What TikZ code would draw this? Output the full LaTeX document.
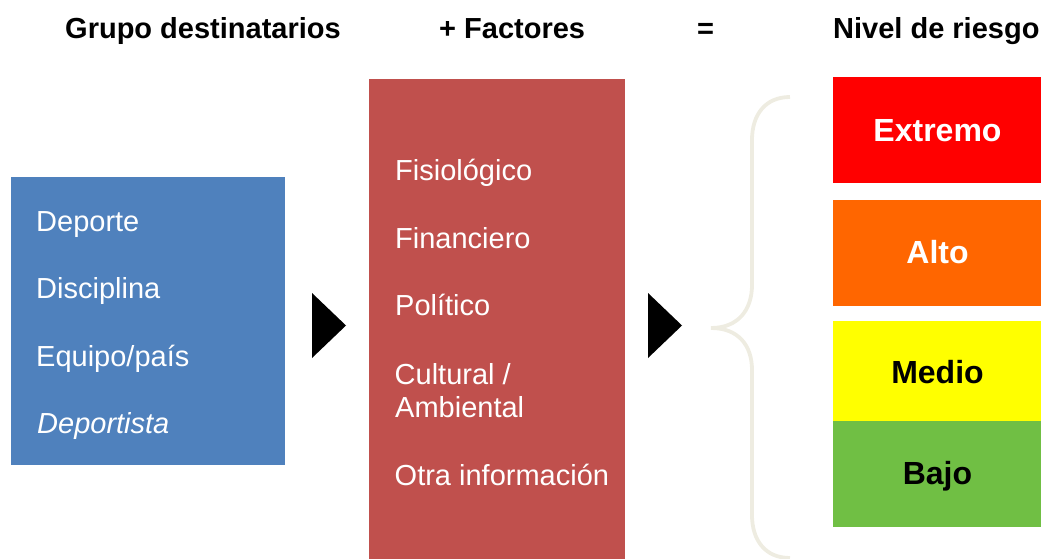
\documentclass[tikz,border=0pt]{standalone}
\usepackage{fontspec}
\setmainfont{Liberation Sans}
\tikzset{
  px/.style={x=1pt,y=-1pt},
  panel/.style={draw=none,inner sep=0pt,outer sep=0pt,anchor=north west},
  label/.style={anchor=base west,inner sep=0pt,text=white,font=\fontsize{29}{29}\selectfont},
  head/.style={anchor=base west,inner sep=0pt,text=black,font=\fontsize{29}{29}\selectfont\bfseries},
  level/.style={anchor=base,inner sep=0pt,font=\fontsize{32}{32}\selectfont\bfseries},
  pointer/.style={fill=black,draw=none},
  bracecurve/.style={draw=bracecol,line width=3.8pt}
}
\definecolor{bluebox}{HTML}{4F81BD}
\definecolor{redbox}{HTML}{C0504D}
\definecolor{extremo}{HTML}{FF0000}
\definecolor{alto}{HTML}{FF6600}
\definecolor{medio}{HTML}{FFFF00}
\definecolor{bajo}{HTML}{70BF44}
\definecolor{bracecol}{HTML}{EEECE1}
\begin{document}
\begin{tikzpicture}[px]
\useasboundingbox (0,0) rectangle (1042,559);
% headers
\node[head] (h1) at (65,39) {Grupo destinatarios};
\node[head] (h2) at (439,39) {+ Factores};
\node[head] (h3) at (697,39) {=};
\node[head] (h4) at (833,39) {Nivel de riesgo};
% blue panel
\node[panel,fill=bluebox,minimum width=274pt,minimum height=288pt] (blue) at (11,177) {};
\node[label] (b1) at (36,231) {Deporte};
\node[label] (b2) at (36,298) {Disciplina};
\node[label] (b3) at (36,366) {Equipo/país};
\node[label] (b4) at (37,433) {\itshape Deportista};
% red panel
\node[panel,fill=redbox,minimum width=256pt,minimum height=480pt] (red) at (369,79) {};
\node[label] (r1) at (395,180.5) {Fisiológico};
\node[label] (r2) at (395,248) {Financiero};
\node[label] (r3) at (395,315) {Político};
\node[label] (r4) at (394.5,384) {Cultural /};
\node[label] (r5) at (395,417) {Ambiental};
\node[label] (r6) at (394.5,485) {Otra información};
% pointers
\fill[pointer] (312,293) -- (346,325.5) -- (312,358) -- cycle;
\fill[pointer] (648,293) -- (682,325.5) -- (648,358) -- cycle;
% brace
\draw[bracecurve,line cap=butt] (790,97) .. controls (765,97) and (752,115) .. (752,140)
  -- (752,285) .. controls (752,310) and (738,328) .. (711,328)
  .. controls (738,328) and (752,345) .. (752,370)
  -- (752,515) .. controls (752,540) and (765,558) .. (790,558);
% levels
\node[panel,fill=extremo,minimum width=208pt,minimum height=106pt] (l1) at (833,77) {};
\node[panel,fill=alto,minimum width=208pt,minimum height=106pt] (l2) at (833,200) {};
\node[panel,fill=medio,minimum width=208pt,minimum height=100pt] (l3) at (833,321) {};
\node[panel,fill=bajo,minimum width=208pt,minimum height=106pt] (l4) at (833,421) {};
\node[level,text=white] (t1) at (937.5,142) {Extremo};
\node[level,text=white] (t2) at (937.5,263) {Alto};
\node[level,text=black] (t3) at (937.5,383) {Medio};
\node[level,text=black] (t4) at (937.5,484) {Bajo};
\end{tikzpicture}
\end{document}
